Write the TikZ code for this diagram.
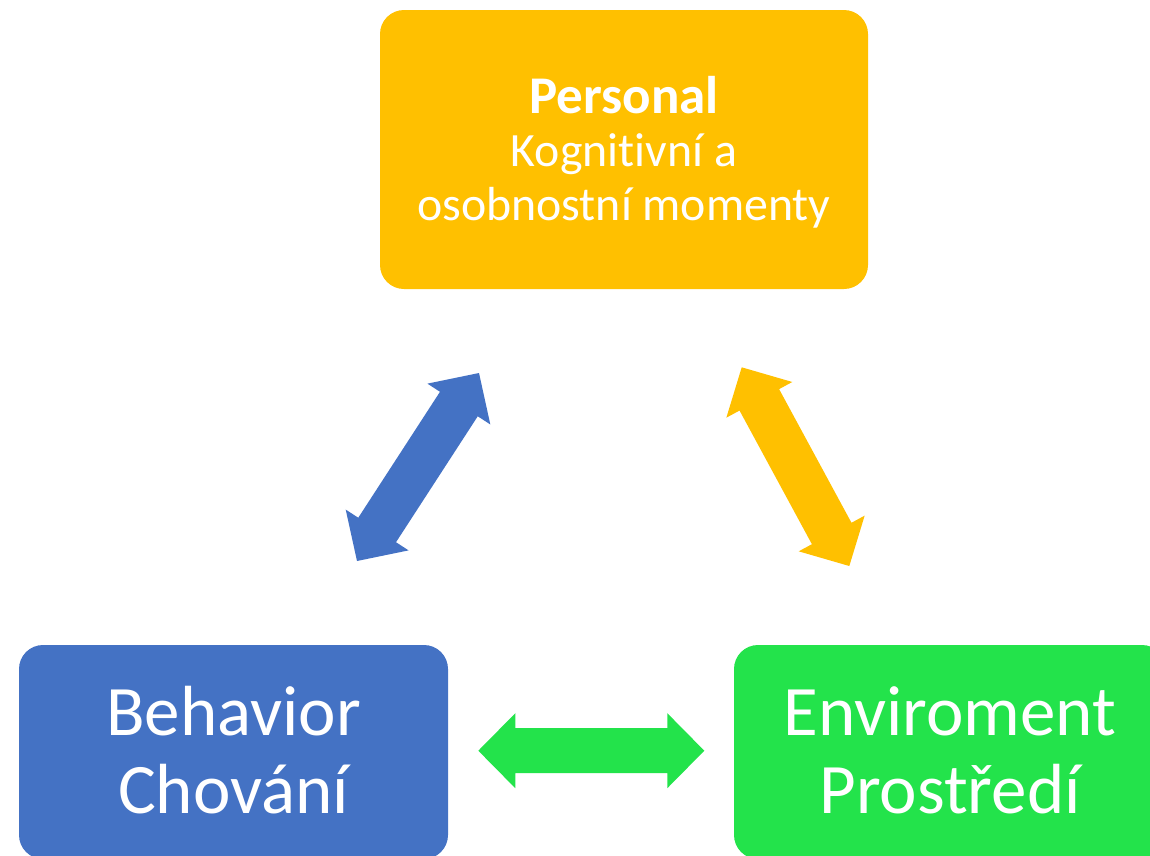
\documentclass[tikz,border=0pt]{standalone}
\usepackage{fontspec}
\setmainfont{Carlito}[Ligatures=NoCommon]
\usetikzlibrary{calc}
\definecolor{cOrange}{HTML}{FFC000}
\definecolor{cBlue}{HTML}{4472C4}
\definecolor{cGreen}{HTML}{23E34B}
% double block arrow between two named coordinates: #1 from, #2 to, #3 colour
\newcommand{\dblarrow}[3]{%
  \fill[#3] (#1)
    -- ($(#1)!37pt!(#2)!37.5pt!90:(#2)$)
    -- ($(#1)!37pt!(#2)!22.5pt!90:(#2)$)
    -- ($(#2)!37pt!(#1)!22.5pt!-90:(#1)$)
    -- ($(#2)!37pt!(#1)!37.5pt!-90:(#1)$)
    -- (#2)
    -- ($(#2)!37pt!(#1)!37.5pt!90:(#1)$)
    -- ($(#2)!37pt!(#1)!22.5pt!90:(#1)$)
    -- ($(#1)!37pt!(#2)!22.5pt!-90:(#2)$)
    -- ($(#1)!37pt!(#2)!37.5pt!-90:(#2)$)
    -- cycle;}
\begin{document}
\begin{tikzpicture}[x=1pt,y=-1pt,
  box/.style={rounded corners=24pt, text=white, align=center, inner sep=0pt}]
\useasboundingbox (0,0) rectangle (1150,855);
\clip (0,0) rectangle (1150,855);
\node[box, fill=cOrange, minimum width=488pt, minimum height=279pt,
      font=\fontsize{47.8}{53.5}\selectfont] (personal) at (624,149.5)
  {\rule{0pt}{42pt}{\fontsize{53}{53.5}\selectfont\bfseries Personal}\\Kognitivní a\\osobnostní momenty};
\node[box, fill=cBlue, minimum width=429pt, minimum height=214pt,
      font=\fontsize{71}{78}\selectfont] (behavior) at (233.5,752)
  {Behavior\\Chování\rule[-4pt]{0pt}{4pt}};
\node[box, fill=cGreen, minimum width=432pt, minimum height=214pt,
      font=\fontsize{71}{78}\selectfont] (env) at (950,752)
  {Enviroment\\Prostředí\rule[-4pt]{0pt}{4pt}};
\coordinate (bB) at (357,561);
\coordinate (bP) at (479,373);
\coordinate (oP) at (741.7,367.3);
\coordinate (oE) at (849.3,566);
\coordinate (gB) at (478.3,750.7);
\coordinate (gE) at (704.3,750.7);
\dblarrow{bB}{bP}{cBlue}
\dblarrow{oP}{oE}{cOrange}
\dblarrow{gB}{gE}{cGreen}
\end{tikzpicture}
\end{document}
